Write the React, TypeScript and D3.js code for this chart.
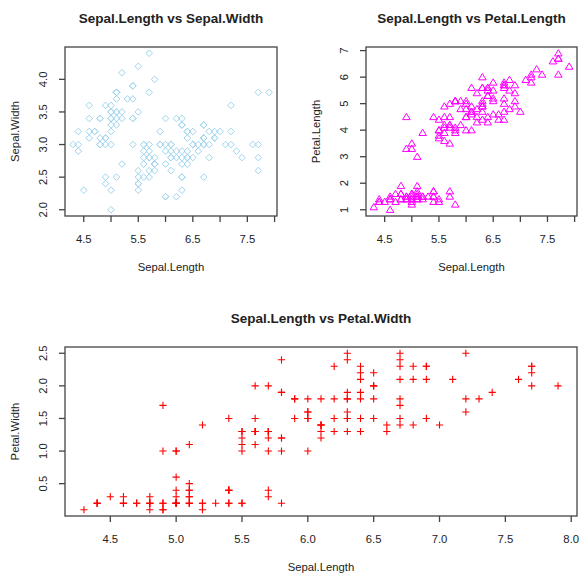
import React from "react";
import * as d3 from "d3";

const sepalLength = [5.1,4.9,4.7,4.6,5.0,5.4,4.6,5.0,4.4,4.9,5.4,4.8,4.8,4.3,5.8,5.7,5.4,5.1,5.7,5.1,5.4,5.1,4.6,5.1,4.8,5.0,5.0,5.2,5.2,4.7,4.8,5.4,5.2,5.5,4.9,5.0,5.5,4.9,4.4,5.1,5.0,4.5,4.4,5.0,5.1,4.8,5.1,4.6,5.3,5.0,7.0,6.4,6.9,5.5,6.5,5.7,6.3,4.9,6.6,5.2,5.0,5.9,6.0,6.1,5.6,6.7,5.6,5.8,6.2,5.6,5.9,6.1,6.3,6.1,6.4,6.6,6.8,6.7,6.0,5.7,5.5,5.5,5.8,6.0,5.4,6.0,6.7,6.3,5.6,5.5,5.5,6.1,5.8,5.0,5.6,5.7,5.7,6.2,5.1,5.7,6.3,5.8,7.1,6.3,6.5,7.6,4.9,7.3,6.7,7.2,6.5,6.4,6.8,5.7,5.8,6.4,6.5,7.7,7.7,6.0,6.9,5.6,7.7,6.3,6.7,7.2,6.2,6.1,6.4,7.2,7.4,7.9,6.4,6.3,6.1,7.7,6.3,6.4,6.0,6.9,6.7,6.9,5.8,6.8,6.7,6.7,6.3,6.5,6.2,5.9];
const sepalWidth = [3.5,3.0,3.2,3.1,3.6,3.9,3.4,3.4,2.9,3.1,3.7,3.4,3.0,3.0,4.0,4.4,3.9,3.5,3.8,3.8,3.4,3.7,3.6,3.3,3.4,3.0,3.4,3.5,3.4,3.2,3.1,3.4,4.1,4.2,3.1,3.2,3.5,3.6,3.0,3.4,3.5,2.3,3.2,3.5,3.8,3.0,3.8,3.2,3.7,3.3,3.2,3.2,3.1,2.3,2.8,2.8,3.3,2.4,2.9,2.7,2.0,3.0,2.2,2.9,2.9,3.1,3.0,2.7,2.2,2.5,3.2,2.8,2.5,2.8,2.9,3.0,2.8,3.0,2.9,2.6,2.4,2.4,2.7,2.7,3.0,3.4,3.1,2.3,3.0,2.5,2.6,3.0,2.6,2.3,2.7,3.0,2.9,2.9,2.5,2.8,3.3,2.7,3.0,2.9,3.0,3.0,2.5,2.9,2.5,3.6,3.2,2.7,3.0,2.5,2.8,3.2,3.0,3.8,2.6,2.2,3.2,2.8,2.8,2.7,3.3,3.2,2.8,3.0,2.8,3.0,2.8,3.8,2.8,2.8,2.6,3.0,3.4,3.1,3.0,3.1,3.1,3.1,2.7,3.2,3.3,3.0,2.5,3.0,3.4,3.0];
const petalLength = [1.4,1.4,1.3,1.5,1.4,1.7,1.4,1.5,1.4,1.5,1.5,1.6,1.4,1.1,1.2,1.5,1.3,1.4,1.7,1.5,1.7,1.5,1.0,1.7,1.9,1.6,1.6,1.5,1.4,1.6,1.6,1.5,1.5,1.4,1.5,1.2,1.3,1.4,1.3,1.5,1.3,1.3,1.3,1.6,1.9,1.4,1.6,1.4,1.5,1.4,4.7,4.5,4.9,4.0,4.6,4.5,4.7,3.3,4.6,3.9,3.5,4.2,4.0,4.7,3.6,4.4,4.5,4.1,4.5,3.9,4.8,4.0,4.9,4.7,4.3,4.4,4.8,5.0,4.5,3.5,3.8,3.7,3.9,5.1,4.5,4.5,4.7,4.4,4.1,4.0,4.4,4.6,4.0,3.3,4.2,4.2,4.2,4.3,3.0,4.1,6.0,5.1,5.9,5.6,5.8,6.6,4.5,6.3,5.8,6.1,5.1,5.3,5.5,5.0,5.1,5.3,5.5,6.7,6.9,5.0,5.7,4.9,6.7,4.9,5.7,6.0,4.8,4.9,5.6,5.8,6.1,6.4,5.6,5.1,5.6,6.1,5.6,5.5,4.8,5.4,5.6,5.1,5.1,5.9,5.7,5.2,5.0,5.2,5.4,5.1];
const petalWidth = [0.2,0.2,0.2,0.2,0.2,0.4,0.3,0.2,0.2,0.1,0.2,0.2,0.1,0.1,0.2,0.4,0.4,0.3,0.3,0.3,0.2,0.4,0.2,0.5,0.2,0.2,0.4,0.2,0.2,0.2,0.2,0.4,0.1,0.2,0.2,0.2,0.2,0.1,0.2,0.2,0.3,0.3,0.2,0.6,0.4,0.3,0.2,0.2,0.2,0.2,1.4,1.5,1.5,1.3,1.5,1.3,1.6,1.0,1.3,1.4,1.0,1.5,1.0,1.4,1.3,1.4,1.5,1.0,1.5,1.1,1.8,1.3,1.5,1.2,1.3,1.4,1.4,1.7,1.5,1.0,1.1,1.0,1.2,1.6,1.5,1.6,1.5,1.3,1.3,1.3,1.2,1.4,1.2,1.0,1.3,1.2,1.3,1.3,1.1,1.3,2.5,1.9,2.1,1.8,2.2,2.1,1.7,1.8,1.8,2.5,2.0,1.9,2.1,2.0,2.4,2.3,1.8,2.2,2.3,1.5,2.3,2.0,2.0,1.8,2.1,1.8,1.8,1.8,2.1,1.6,1.9,2.0,2.2,1.5,1.4,2.3,2.4,1.8,1.8,2.1,2.4,2.3,1.9,2.3,2.5,2.3,1.9,2.0,2.3,1.8];

const xTicksTop = [4.5, 5, 5.5, 6, 6.5, 7, 7.5, 8];
const xLabelsTop = [4.5, 5.5, 6.5, 7.5];
const xTicksBottom = [4.5, 5, 5.5, 6, 6.5, 7, 7.5, 8];
const yTicksSW = [2, 2.5, 3, 3.5, 4];
const yTicksPL = [1, 2, 3, 4, 5, 6, 7];
const yTicksPW = [0.5, 1, 1.5, 2, 2.5];

type Shape = "diamond" | "triangle" | "plus";

interface PanelProps {
  x0: number; x1: number; y0: number; y1: number;
  xs: number[]; ys: number[];
  xTicks: number[]; xLabels: number[];
  yTicks: number[];
  shape: Shape; color: string;
  title: string; xlab: string; ylab: string;
}

const ext = (v: number[]): [number, number] => {
  const [a, b] = d3.extent(v) as [number, number];
  const d = (b - a) * 0.04;
  return [a - d, b + d];
};

const FONT = "'Liberation Sans', Arial, Helvetica, sans-serif";
const TXT = "#222";

function marker(shape: Shape, cx: number, cy: number, color: string, key: number) {
  if (shape === "diamond") {
    const r = 3.3;
    return <path key={key} d={`M${cx},${cy - r}L${cx + r},${cy}L${cx},${cy + r}L${cx - r},${cy}Z`} fill="none" stroke={color} strokeWidth={1} />;
  }
  if (shape === "triangle") {
    const s = 3.6;
    return <path key={key} d={`M${cx},${cy - s}L${cx + s * 1.05},${cy + s * 0.75}L${cx - s * 1.05},${cy + s * 0.75}Z`} fill="none" stroke={color} strokeWidth={1} />;
  }
  const h = 3.6;
  return <path key={key} d={`M${cx - h},${cy}L${cx + h},${cy}M${cx},${cy - h}L${cx},${cy + h}`} fill="none" stroke={color} strokeWidth={1.1} />;
}

function Panel(p: PanelProps) {
  const x = d3.scaleLinear().domain(ext(p.xs)).range([p.x0, p.x1]);
  const y = d3.scaleLinear().domain(ext(p.ys)).range([p.y1, p.y0]);
  const midX = (p.x0 + p.x1) / 2;
  const midY = (p.y0 + p.y1) / 2;
  const tick = 6;
  return (
    <g>
      <text x={midX} y={p.y0 - 24} textAnchor="middle" fontFamily={FONT} fontWeight="bold" fontSize={13.5} fill={TXT}>{p.title}</text>
      {p.xs.map((v, i) => marker(p.shape, x(v), y(p.ys[i]), p.color, i))}
      <rect x={p.x0} y={p.y0} width={p.x1 - p.x0} height={p.y1 - p.y0} fill="none" stroke="#444" strokeWidth={1.3} />
      {p.xTicks.map((t) => (
        <line key={"xt" + t} x1={x(t)} x2={x(t)} y1={p.y1} y2={p.y1 + tick} stroke="#444" strokeWidth={1.3} />
      ))}
      {p.xLabels.map((t) => (
        <text key={"xl" + t} x={x(t)} y={p.y1 + 27} textAnchor="middle" fontFamily={FONT} fontSize={11.3} fill={TXT}>{d3.format(".1f")(t)}</text>
      ))}
      {p.yTicks.map((t) => (
        <line key={"yt" + t} x1={p.x0 - tick} x2={p.x0} y1={y(t)} y2={y(t)} stroke="#444" strokeWidth={1.3} />
      ))}
      {p.yTicks.map((t) => (
        <text key={"yl" + t} transform={`translate(${p.x0 - 18},${y(t)}) rotate(-90)`} textAnchor="middle" fontFamily={FONT} fontSize={11.3} fill={TXT}>
          {Number.isInteger(t) && p.yTicks.every((u) => Number.isInteger(u)) ? String(t) : d3.format(".1f")(t)}
        </text>
      ))}
      <text x={midX} y={p.y1 + 55} textAnchor="middle" fontFamily={FONT} fontSize={11.3} fill={TXT}>{p.xlab}</text>
      <text transform={`translate(${p.x0 - 46},${midY}) rotate(-90)`} textAnchor="middle" fontFamily={FONT} fontSize={11.3} fill={TXT}>{p.ylab}</text>
    </g>
  );
}

export default function App() {
  return (
    <svg width={579} height={574} style={{ position: "absolute", left: 0, top: 0, background: "#fff" }}>
      <rect width={579} height={574} fill="#fff" />
      <Panel x0={65} x1={277} y0={47} y1={216} xs={sepalLength} ys={sepalWidth}
        xTicks={xTicksTop} xLabels={xLabelsTop} yTicks={yTicksSW}
        shape="diamond" color="#9fd4ee" title="Sepal.Length vs Sepal.Width" xlab="Sepal.Length" ylab="Sepal.Width" />
      <Panel x0={366} x1={577} y0={47} y1={216} xs={sepalLength} ys={petalLength}
        xTicks={xTicksTop} xLabels={xLabelsTop} yTicks={yTicksPL}
        shape="triangle" color="#ff00ff" title="Sepal.Length vs Petal.Length" xlab="Sepal.Length" ylab="Petal.Length" />
      <Panel x0={65} x1={577} y0={347} y1={516} xs={sepalLength} ys={petalWidth}
        xTicks={xTicksBottom} xLabels={xTicksBottom} yTicks={yTicksPW}
        shape="plus" color="#ff0000" title="Sepal.Length vs Petal.Width" xlab="Sepal.Length" ylab="Petal.Width" />
    </svg>
  );
}
